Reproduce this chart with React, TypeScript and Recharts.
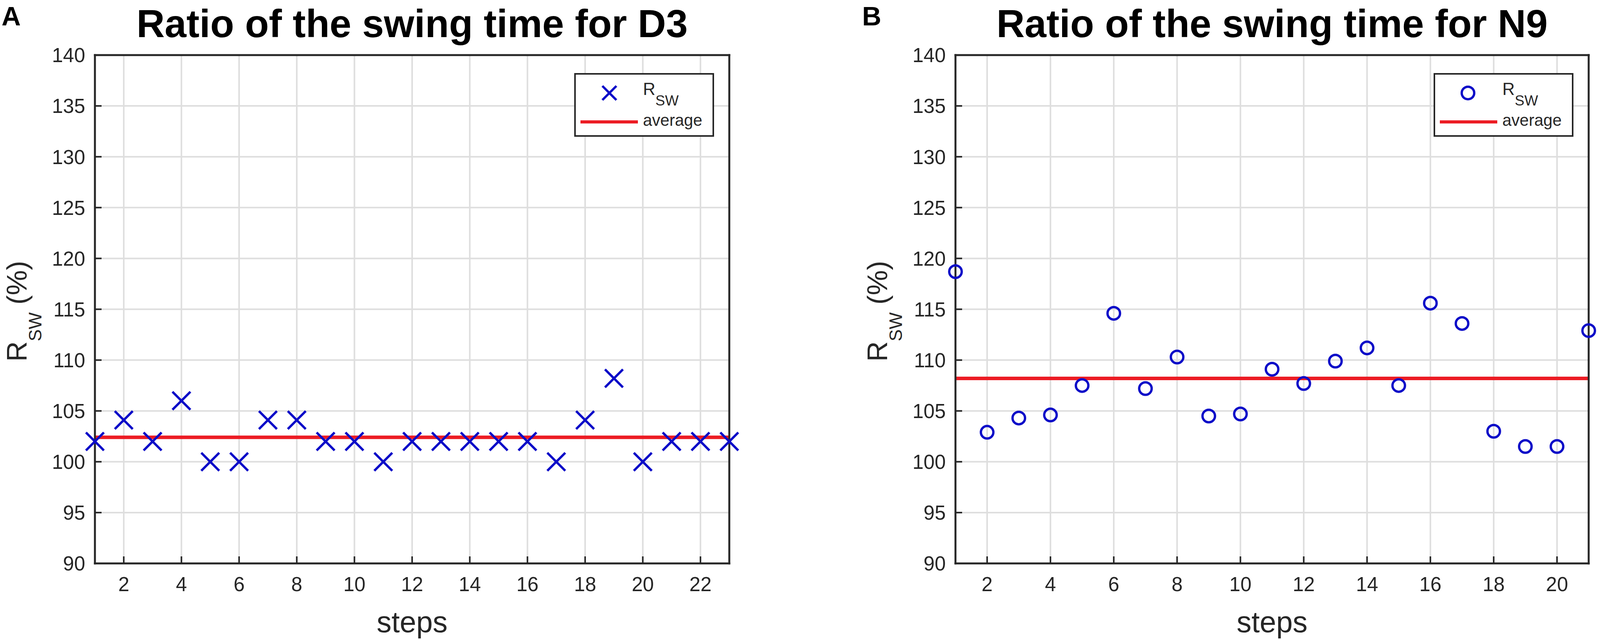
import {
	CartesianGrid,
	Legend,
	ReferenceLine,
	Scatter,
	ScatterChart,
	XAxis,
	YAxis,
} from "recharts";

// panel A: subject D3
const stepsA = [1, 2, 3, 4, 5, 6, 7, 8, 9, 10, 11, 12, 13, 14, 15, 16, 17, 18, 19, 20, 21, 22, 23];
const rswA = [
	102, 104.1, 102, 106, 100, 100, 104.1, 104.1, 102, 102, 100, 102, 102, 102, 102, 102, 100, 104.1,
	108.2, 100, 102, 102, 102,
];
const averageA = 102.4;
const xTicksA = [2, 4, 6, 8, 10, 12, 14, 16, 18, 20, 22];

// panel B: subject N9
const stepsB = [1, 2, 3, 4, 5, 6, 7, 8, 9, 10, 11, 12, 13, 14, 15, 16, 17, 18, 19, 20, 21];
const rswB = [
	118.7, 102.9, 104.3, 104.6, 107.5, 114.6, 107.2, 110.3, 104.5, 104.7, 109.1, 107.7, 109.9, 111.2,
	107.5, 115.6, 113.6, 103.0, 101.5, 101.5, 112.9,
];
const averageB = 108.2;
const xTicksB = [2, 4, 6, 8, 10, 12, 14, 16, 18, 20];

const yTicks = [90, 95, 100, 105, 110, 115, 120, 125, 130, 135, 140];

// the browser viewport is capped at 4096px wide, so the figure is laid out in that width
const PAGE_W = 4096;
const PAGE_H = 1638;

const FRAME = "#262626";
const BLUE = "#0c0cc8";
const RED = "#ec1c24";
const GRID = "#dedede";
const TICK_LEN = 18;

const XMark = ({ cx, cy, half = 23 }: any) => (
	<g>
		<line x1={cx - half} y1={cy - half} x2={cx + half} y2={cy + half} stroke={BLUE} strokeWidth={6} />
		<line x1={cx - half} y1={cy + half} x2={cx + half} y2={cy - half} stroke={BLUE} strokeWidth={6} />
	</g>
);

const OMark = ({ cx, cy, r = 16 }: any) => (
	<circle cx={cx} cy={cy} r={r} fill="none" stroke={BLUE} strokeWidth={6} />
);

const BottomTick = (props: any) => {
	const { x, y, payload } = props;
	return (
		<g>
			<line x1={x} x2={x} y1={y} y2={y - TICK_LEN} stroke={FRAME} strokeWidth={4} />
			<text x={x} y={y + 71} textAnchor="middle" fontSize={51} fill={FRAME}>
				{payload.value}
			</text>
		</g>
	);
};

const LeftTick = (props: any) => {
	const { x, y, payload } = props;
	return (
		<g>
			<line x1={x} x2={x + 17} y1={y} y2={y} stroke={FRAME} strokeWidth={4} />
			<text x={x - 25} y={y} dy="0.36em" textAnchor="end" fontSize={51} fill={FRAME}>
				{payload.value}
			</text>
		</g>
	);
};

const titleLabel = (letter: string, title: string) => (props: any) => {
	const { x, y, width } = props.viewBox;
	return (
		<g>
			<text x={x + width / 2} y={y - 46} textAnchor="middle" fontSize={100} fontWeight="bold" fill="#000">
				{title}
			</text>
			<text x={x - 239} y={y - 76} fontSize={68} fontWeight="bold" fill="#000">
				{letter}
			</text>
		</g>
	);
};

const stepsLabel = (props: any) => {
	const { x, y, width } = props.viewBox;
	return (
		<text x={x + width / 2} y={y + 176} textAnchor="middle" fontSize={76} fill={FRAME}>
			steps
		</text>
	);
};

const rswLabel = (props: any) => {
	const { x, y, width, height } = props.viewBox;
	const cx = x + width - 175;
	const cy = y + height / 2 + 5;
	return (
		<text x={cx} y={cy} transform={`rotate(-90 ${cx} ${cy})`} textAnchor="middle" fontSize={72} fill={FRAME}>
			R
			<tspan fontSize={46} dy={38}>
				SW
			</tspan>
			<tspan dy={-38}> (%)</tspan>
		</text>
	);
};

const LEGEND_W = 358;
const LEGEND_H = 163;

const legendBox = (marker: "x" | "o") => () => (
	<svg width={LEGEND_W} height={LEGEND_H} style={{ display: "block" }}>
		<rect x={2} y={2} width={LEGEND_W - 4} height={LEGEND_H - 4} fill="#fff" stroke={FRAME} strokeWidth={4} />
		{marker === "x" ? <XMark cx={90} cy={51} half={18} /> : <OMark cx={88} cy={51} r={16} />}
		<text x={176} y={56} fontSize={44} fill={FRAME}>
			R
			<tspan fontSize={37} dy={27}>
				SW
			</tspan>
		</text>
		<line x1={16} x2={163} y1={125} y2={125} stroke={RED} strokeWidth={8} />
		<text x={176} y={135} fontSize={42} fill={FRAME}>
			average
		</text>
	</svg>
);

type PanelProps = {
	letter: string;
	title: string;
	steps: number[];
	values: number[];
	average: number;
	xTicks: number[];
	marker: "x" | "o";
	width: number;
	axisWidth: number;
	marginRight: number;
};

const Panel = ({ letter, title, steps, values, average, xTicks, marker, width, axisWidth, marginRight }: PanelProps) => {
	const data = steps.map((step, i) => ({ step, rsw: values[i] }));
	const xDomain = [steps[0], steps[steps.length - 1]];
	const legendLeft = width - marginRight - 39 - LEGEND_W;
	const frameLine = { stroke: FRAME, strokeWidth: 5, strokeLinecap: "square" };
	return (
		<ScatterChart width={width} height={PAGE_H} margin={{ top: 141, right: marginRight, bottom: 0, left: 0 }}>
			<CartesianGrid stroke={GRID} strokeWidth={4} />
			<XAxis
				dataKey="step"
				type="number"
				domain={xDomain}
				ticks={xTicks}
				interval={0}
				height={196}
				tickSize={0}
				tickMargin={0}
				tickLine={false}
				tick={<BottomTick />}
				axisLine={frameLine}
				label={stepsLabel}
			/>
			<XAxis
				xAxisId="top"
				orientation="top"
				type="number"
				domain={xDomain}
				allowDataOverflow
				ticks={xTicks}
				interval={0}
				height={1}
				mirror
				tick={false}
				tickSize={TICK_LEN}
				tickLine={{ stroke: FRAME, strokeWidth: 4 }}
				axisLine={frameLine}
				label={titleLabel(letter, title)}
			/>
			<YAxis
				dataKey="rsw"
				type="number"
				domain={[90, 140]}
				ticks={yTicks}
				interval={0}
				width={axisWidth}
				tickSize={0}
				tickMargin={0}
				tickLine={false}
				tick={<LeftTick />}
				axisLine={frameLine}
				label={rswLabel}
			/>
			<YAxis
				yAxisId="right"
				orientation="right"
				type="number"
				domain={[90, 140]}
				allowDataOverflow
				ticks={yTicks}
				interval={0}
				width={1}
				mirror
				tick={false}
				tickSize={17}
				tickLine={{ stroke: FRAME, strokeWidth: 4 }}
				axisLine={frameLine}
			/>
			<ReferenceLine y={average} stroke={RED} strokeWidth={9} />
			<Scatter
				name="RSW"
				data={data}
				isAnimationActive={false}
				shape={marker === "x" ? <XMark /> : <OMark />}
			/>
			<Legend
				layout="vertical"
				align="center"
				verticalAlign="middle"
				width={LEGEND_W}
				height={LEGEND_H}
				wrapperStyle={{ left: legendLeft, top: 187 }}
				content={legendBox(marker)}
			/>
		</ScatterChart>
	);
};

const App = () => {
	return (
		<div
			style={{
				position: "absolute",
				left: 0,
				top: 0,
				width: PAGE_W,
				height: PAGE_H,
				background: "#fff",
				fontFamily: "'Liberation Sans', Arial, sans-serif",
			}}
		>
			<div style={{ position: "absolute", left: 0, top: 0 }}>
				<Panel
					letter="A"
					title="Ratio of the swing time for D3"
					steps={stepsA}
					values={rswA}
					average={averageA}
					xTicks={xTicksA}
					marker="x"
					width={2040}
					axisWidth={243}
					marginRight={173}
				/>
			</div>
			<div style={{ position: "absolute", left: 2040, top: 0 }}>
				<Panel
					letter="B"
					title="Ratio of the swing time for N9"
					steps={stepsB}
					values={rswB}
					average={averageB}
					xTicks={xTicksB}
					marker="o"
					width={2056}
					axisWidth={406}
					marginRight={29}
				/>
			</div>
		</div>
	);
};

export default App;
